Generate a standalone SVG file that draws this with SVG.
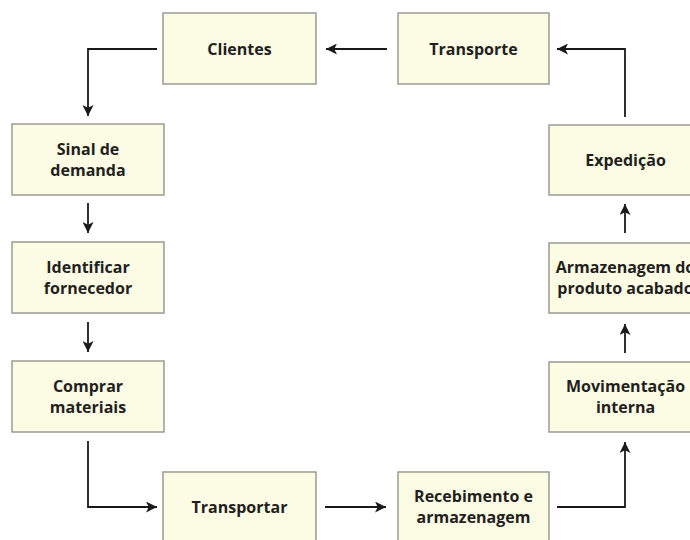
<svg xmlns="http://www.w3.org/2000/svg" width="690" height="540" viewBox="0 0 690 540">
<defs>
<marker id="ah" viewBox="0 0 10 10" refX="10" refY="5" markerWidth="11" markerHeight="11" markerUnits="userSpaceOnUse" orient="auto">
<path d="M0,0 L10,5 L0,10 L2.5,5 Z" fill="#1a1a1a"/>
</marker>
</defs>
<style>
.box{fill:#fcfce4;stroke:#9a9a94;stroke-width:1.5}
.lbl{font-family:"Open Sans","Liberation Sans",sans-serif;font-weight:700;font-size:16px;fill:#231f20;text-anchor:middle}
.con{fill:none;stroke:#1a1a1a;stroke-width:1.8;marker-end:url(#ah)}
</style>
<rect width="690" height="540" fill="#ffffff"/>
<g id="clientes"><rect class="box" x="163" y="13" width="153" height="71"/><text class="lbl" x="239.5" y="55">Clientes</text></g>
<g id="transporte"><rect class="box" x="398" y="13" width="151" height="71"/><text class="lbl" x="473.5" y="55">Transporte</text></g>
<g id="sinal"><rect class="box" x="12" y="124" width="152" height="71"/><text class="lbl" x="88" y="155">Sinal de</text><text class="lbl" x="88" y="176">demanda</text></g>
<g id="identificar"><rect class="box" x="12" y="242" width="152" height="71"/><text class="lbl" x="88" y="273">Identificar</text><text class="lbl" x="88" y="294">fornecedor</text></g>
<g id="comprar"><rect class="box" x="12" y="361" width="152" height="71"/><text class="lbl" x="88" y="392">Comprar</text><text class="lbl" x="88" y="413">materiais</text></g>
<g id="transportar"><rect class="box" x="163" y="472" width="153" height="71"/><text class="lbl" x="239.5" y="513">Transportar</text></g>
<g id="recebimento"><rect class="box" x="398" y="472" width="151" height="71"/><text class="lbl" x="473.5" y="502">Recebimento e</text><text class="lbl" x="473.5" y="523">armazenagem</text></g>
<g id="movimentacao"><rect class="box" x="549" y="362" width="153" height="70"/><text class="lbl" x="625.5" y="392">Movimentação</text><text class="lbl" x="625.5" y="413">interna</text></g>
<g id="armazenagem"><rect class="box" x="549" y="243" width="153" height="70"/><text class="lbl" x="625.5" y="273">Armazenagem do</text><text class="lbl" x="625.5" y="294">produto acabado</text></g>
<g id="expedicao"><rect class="box" x="549" y="125" width="153" height="70"/><text class="lbl" x="625.5" y="166">Expedição</text></g>
<g id="connectors">
<path class="con" d="M157,49 H88 V116"/>
<path class="con" d="M387,49 H326"/>
<path class="con" d="M625,117 V49 H557"/>
<path class="con" d="M625,233 V204"/>
<path class="con" d="M625,353 V324"/>
<path class="con" d="M557,507 H625 V442"/>
<path class="con" d="M325,507 H386"/>
<path class="con" d="M88,441 V507 H157"/>
<path class="con" d="M88,203 V233"/>
<path class="con" d="M88,322 V352"/>
</g>
</svg>
